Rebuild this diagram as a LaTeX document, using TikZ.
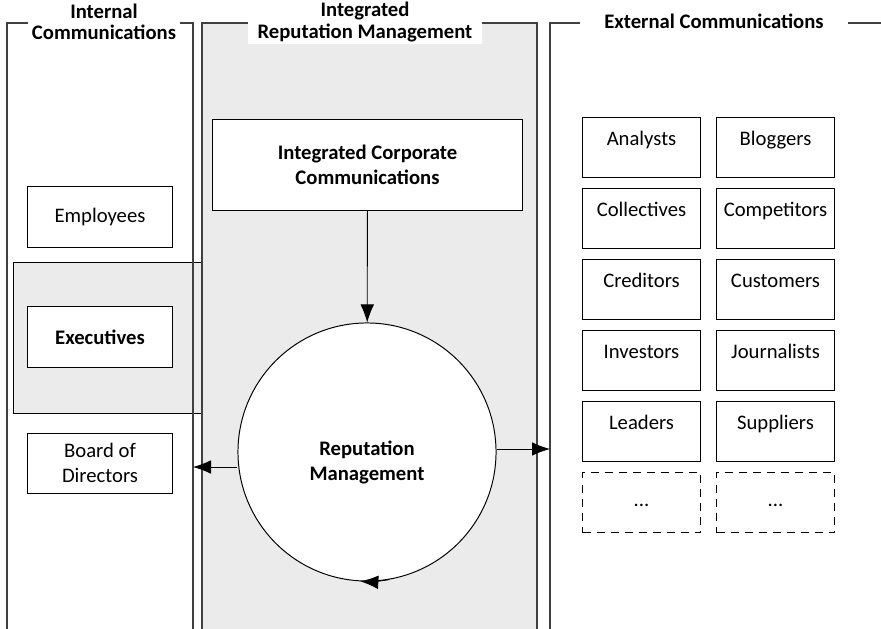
\documentclass[tikz,border=0pt]{standalone}
\usepackage{fontspec}
\setmainfont{Carlito}
\usetikzlibrary{arrows.meta, positioning}
\newcommand{\boxfont}{\fontsize{14.7}{17.7}\selectfont}

\begin{document}
\begin{tikzpicture}[
    x=0.025cm, y=-0.025cm,
    node distance=0.25cm and 0.375cm,
    font=\boxfont,
    panel/.style={draw=black!75, line width=0.9pt},
    header/.style={fill=white, align=center, font=\fontsize{14.7}{15}\selectfont\bfseries, inner ysep=2pt},
    bold/.style={font=\boxfont\bfseries},
    int/.style={rectangle, draw, fill=white, minimum width=3.6cm, minimum height=1.5cm, align=center, line width=0.7pt},
    ext/.style={rectangle, draw, fill=white, minimum width=2.95cm, minimum height=1.5cm, inner ysep=0pt, text height=0.7cm, text depth=0.8cm, line width=0.7pt},
    arrow/.style={-{Latex[length=0.45cm, width=0.34cm]}, line width=0.6pt}
]
    \useasboundingbox (0,0) rectangle (881,629);

    % Executives group
    \draw[fill=black!8, line width=0.7pt] (13,262) rectangle (202,413);

    % Panels
    \draw[panel] (7,629) -- (7,23) -- (193,23) -- (193,629);
    \draw[panel, fill=black!8] (202,629) -- (202,23) -- (537,23) -- (537,629);
    \draw[panel] (550,629) -- (550,23) -- (881,23);

    \node[header, inner xsep=0.1cm] (intHead) at (104,22) {Internal\\Communications};
    \node[header, inner xsep=0.25cm] (repHead) at (365,22) {Integrated\\Reputation Management};
    \node[header, inner xsep=0.6cm] (extHead) at (714,21) {External Communications};

    % Integrated reputation management
    \node[int, bold, minimum width=7.725cm, minimum height=2.25cm] (icc) at (367.5,165) {Integrated Corporate\\Communications};
    \node[circle, draw, fill=white, minimum size=6.45cm, line width=0.7pt, bold, align=center, text height=1.6cm, text depth=0.2cm] (rep) at (367,452) {Reputation\\Management};

    % Internal
    \node[int] (employees) at (100,217) {Employees};
    \node[int, bold] (executives) at (100,337) {Executives};
    \node[int] (board) at (100,463) {Board of\\Directors};

    % External
    \node[ext, anchor=north west] (analysts) at (582,117) {Analysts};
    \node[ext, right=of analysts] (bloggers) {Bloggers};
    \node[ext, below=of analysts] (collectives) {Collectives};
    \node[ext, right=of collectives] (competitors) {Competitors};
    \node[ext, below=of collectives] (creditors) {Creditors};
    \node[ext, right=of creditors] (customers) {Customers};
    \node[ext, below=of creditors] (investors) {Investors};
    \node[ext, right=of investors] (journalists) {Journalists};
    \node[ext, below=of investors] (leaders) {Leaders};
    \node[ext, right=of leaders] (suppliers) {Suppliers};
    \node[ext, dashed, dash pattern=on 0.2cm off 0.15cm, text height=0.85cm, text depth=0.65cm, below=of leaders] (more1) {...};
    \node[ext, dashed, dash pattern=on 0.2cm off 0.15cm, text height=0.85cm, text depth=0.65cm, right=of more1] (more2) {...};

    % Arrows
    \coordinate (intEdge) at (193,467);
    \coordinate (extEdge) at (550,449);
    \draw[arrow] (icc) -- (rep);
    \draw[arrow] (rep.west |- intEdge) -- (intEdge);
    \draw[arrow] (rep.east |- extEdge) -- (extEdge);
    \draw[arrow] (rep.-80) arc[start angle=-80, end angle=-93, radius=3.225cm];
\end{tikzpicture}
\end{document}
